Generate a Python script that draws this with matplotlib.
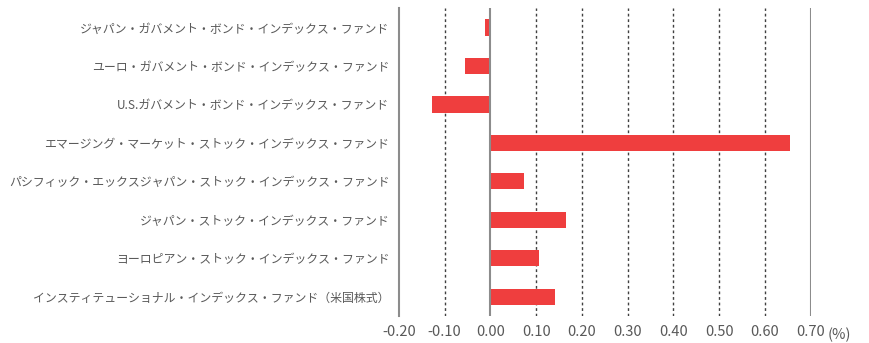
import matplotlib.pyplot as plt
import numpy as np

plt.rcParams["font.family"] = ["Noto Sans CJK JP", "DejaVu Sans"]
plt.rcParams["axes.unicode_minus"] = False

funds = [
    "ジャパン・ガバメント・ボンド・インデックス・ファンド",
    "ユーロ・ガバメント・ボンド・インデックス・ファンド",
    "U.S.ガバメント・ボンド・インデックス・ファンド",
    "エマージング・マーケット・ストック・インデックス・ファンド",
    "パシフィック・エックスジャパン・ストック・インデックス・ファンド",
    "ジャパン・ストック・インデックス・ファンド",
    "ヨーロピアン・ストック・インデックス・ファンド",
    "インスティテューショナル・インデックス・ファンド（米国株式）",
]
returns = [-0.013, -0.055, -0.127, 0.654, 0.074, 0.165, 0.107, 0.140]
xticks = [-0.2, -0.1, 0.0, 0.1, 0.2, 0.3, 0.4, 0.5, 0.6, 0.7]

text_color = "#595959"
bar_color = "#EF3E3E"

fig = plt.figure(figsize=(8.7, 3.43), dpi=100)
ax = fig.add_axes([0.4586, 0.0787, 0.9318 - 0.4586, 0.9758 - 0.0787])

y = np.arange(len(funds))
ax.barh(y, returns, height=0.42, color=bar_color, zorder=2)

# dotted grid, solid lines at zero and the right edge
for x in xticks[1:-1]:
    if x == 0.0:
        continue
    ax.axvline(x, color="#404040", lw=1, ls=(0, (2, 2)), zorder=1)
ax.axvline(0.0, color="#8c8c8c", lw=1.5, zorder=3)
ax.axvline(0.7, color="#8c8c8c", lw=1.5, zorder=3)

ax.set_xlim(-0.2, 0.7)
ax.set_ylim(len(funds) - 0.5, -0.5)
ax.set_xticks(xticks)
ax.set_xticklabels([f"{v:.2f}" for v in xticks])
ax.set_yticks(y)
ax.set_yticklabels(funds)

for side in ["top", "right", "bottom"]:
    ax.spines[side].set_visible(False)
ax.spines["left"].set_color("#8c8c8c")
ax.spines["left"].set_linewidth(1.5)

ax.tick_params(axis="x", length=0, pad=6.5, labelsize=10.5, labelcolor=text_color)
ax.tick_params(axis="y", length=0, pad=7, labelsize=8.6, labelcolor=text_color)

fig.text(828 / 870, 1 - 335 / 343, "(%)", fontsize=10.5, color=text_color,
         ha="left", va="center")

fig.savefig("out.png", dpi=100)
